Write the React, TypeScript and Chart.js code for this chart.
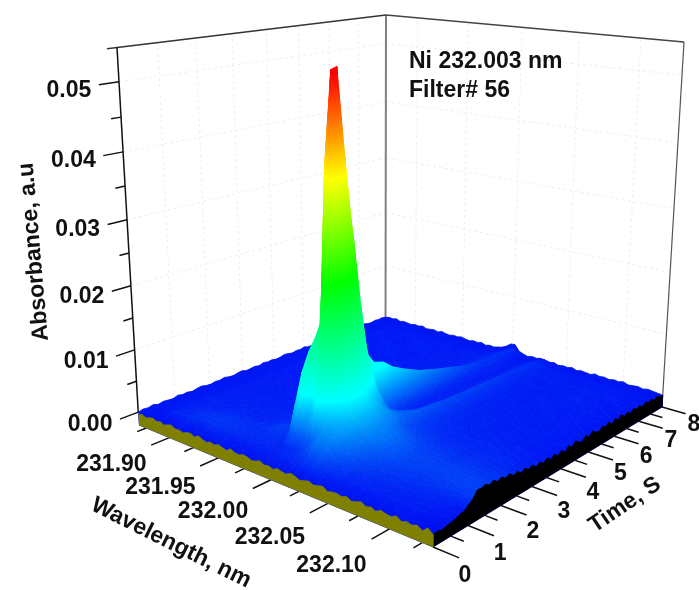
import React, { useEffect, useRef } from "react";
import { Chart, registerables } from "chart.js";

Chart.register(...registerables);

// ---- data (absorbance in units of 1e-4 a.u.) ----
const wavelengths = [231.867, 231.89, 231.91, 231.93, 231.95, 231.96, 231.97, 231.98, 231.985, 231.99, 231.995, 232.0, 232.005, 232.01, 232.015, 232.02, 232.03, 232.04, 232.05, 232.06, 232.07, 232.09, 232.11, 232.133];
const times = [0, 0.4, 0.6, 0.8, 1.0, 1.2, 1.4, 1.6, 1.8, 2.0, 2.2, 2.4, 2.6, 2.8, 3.0, 3.3, 3.6, 4, 4.5, 5, 5.5, 6, 6.5, 7, 7.5, 8];
const absorbance = [
  [-3,-3,-2,-3,-2,-3,-2,-3,-2,-3,-2,-3,-2,-3,-2,-3,-2,-3,-2,-3,-2,-3,-2,-4],
  [0,5,8,9,8,6,6,5,5,5,6,7,8,9,11,14,18,12,8,6,5,4,3,-4],
  [0,4,9,11,9,7,7,7,6,5,6,8,10,14,22,30,30,18,12,8,6,5,4,-2],
  [0,4,8,10,9,8,9,8,6,18,22,20,24,24,32,40,38,26,16,12,9,7,5,0],
  [0,4,6,8,8,9,12,10,20,62,70,45,55,90,60,55,45,30,20,15,12,9,7,3],
  [0,3,5,6,6,8,13,15,35,105,115,85,130,190,110,75,50,34,24,18,14,11,11,12],
  [0,4,4,5,5,7,10,20,45,132,140,125,300,300,160,90,56,38,27,21,16,13,14,15],
  [0,3,4,5,5,6,9,22,50,150,175,400,500,340,175,100,58,40,30,22,17,14,15,14],
  [0,3,4,4,5,6,9,24,52,155,390,530,535,300,160,95,56,38,30,22,17,14,14,12],
  [0,3,4,4,4,5,8,20,45,130,330,455,410,245,130,85,52,35,28,20,15,13,12,10],
  [0,3,3,4,4,5,7,16,35,100,245,370,300,185,105,70,46,31,24,17,14,11,11,9],
  [0,3,3,3,4,4,6,13,28,70,170,285,195,135,85,55,40,26,19,14,12,10,9,7],
  [0,2,3,3,3,4,6,10,20,50,115,185,110,88,60,42,34,20,15,12,10,8,8,5],
  [0,3,3,3,3,4,5,8,14,35,75,105,70,50,38,30,28,16,12,10,8,7,7,4],
  [0,2,3,3,3,3,5,6,10,28,55,88,55,25,22,22,25,14,10,8,7,6,6,3],
  [0,3,2,3,3,3,4,5,9,24,48,82,45,14,10,12,23,12,8,7,6,6,5,2],
  [0,2,3,2,3,3,4,5,8,20,40,68,38,11,7,8,21,10,7,6,5,5,4,1],
  [0,3,2,3,2,3,4,4,7,17,32,56,30,9,5,6,19,9,6,5,5,4,3,0],
  [0,2,3,2,3,3,3,4,6,14,25,43,23,7,4,5,17,8,5,5,4,4,3,1],
  [0,3,2,3,2,3,3,3,5,11,19,34,18,6,4,4,15,7,5,4,4,3,3,0],
  [0,2,3,2,3,2,3,3,4,8,15,26,14,5,3,4,14,6,4,4,3,4,2,0],
  [0,3,2,3,2,3,3,3,4,7,11,18,10,4,3,4,12,6,4,3,4,3,3,0],
  [0,2,3,2,3,2,3,3,3,5,8,13,8,4,3,3,11,5,4,3,3,4,2,0],
  [0,3,2,3,2,3,2,3,3,5,7,10,7,4,3,3,10,5,3,4,3,3,3,-1],
  [0,2,3,2,3,2,3,2,3,4,7,10,7,3,3,3,9,5,4,3,3,3,2,-1],
  [-1,-1,-1,-1,-1,-1,-1,-1,0,0,3,8,3,-1,-1,-1,3,0,-1,-1,-1,-1,-1,-2],
];
// finely sampled absorbance along the four outer edges of the surface
const frontEdge = [-3,-1,-4,-2,0,-3,-1,-4,-1,1,-3,-2,-4,-1,0,-3,1,-2,-4,-1,-3,0,-2,-4,1,-2,-3,0,-1,-4,-2,1,-3,-1,-4,0,-2,-3,1,-1,-4,-2,0,-3,-1,1,-4,-2,-1,-3,0,-4,-2,1,-3,-1,-4,0,-2,-3,1,-4,-1,-3,0,-5,2,-4];
const rightEdge = [-4,-3,-5,-3,-2,-1,2,3,8,13,22,21,23,19,22,17,20,15,18,12,15,9,13,8,11,5,9,4,9,3,8,2,7,1,8,3,9,4,2,8,3,9,4,2,7,3,8,2,7,3,8,2,6,1,6,2,5,0,5,1,4,-1,3,0,-2];
const backLeftEdge = [0,2,1,3,0,2,1,0,3,1,2,0,2,3,1,0,2,1,3,1,0,2,3,0,1,2,0,3,1,2,0,1,3,2,0,2,1,3,0,1,2,0,3,1,0,2,1,3,0,2,1,0,2,3,1,0,2,1,2,0];
const backRightEdge = [0,2,1,3,0,2,1,0,2,1,3,0,1,2,0,3,1,0,2,1,3,1,0,2,1,3,0,2,1,3,5,9,15,16,6,3,1,3,2,4,3,1,3,0,2,1,3,0,2,1,0,3,1,2,0,2,1,3,0,1,2,0,2,1,0,-1];

const absorbanceTicks = [0, 0.01, 0.02, 0.03, 0.04, 0.05];
const absorbanceMinorTicks = [0.005, 0.015, 0.025, 0.035, 0.045];
const wavelengthTicks = [231.9, 231.95, 232.0, 232.05, 232.1];
const wavelengthMinorTicks = [231.875, 231.925, 231.975, 232.025, 232.075, 232.125];
const timeTicks = [0, 1, 2, 3, 4, 5, 6, 7, 8];
const timeMinorTicks = [0.5, 1.5, 2.5, 3.5, 4.5, 5.5, 6.5, 7.5];

const colorValues = [-5, 2, 78, 240, 385, 525];
const colorRgb = [[0, 15, 238], [0, 25, 245], [0, 255, 255], [0, 255, 0], [255, 255, 0], [255, 0, 0]];

// ---- box geometry ----
const floorCorners = [[139, 425], [433, 547], [662, 407], [385.5, 328]];
const topCorners = [[117, 47.5], [439, 91], [684, 42], [386, 15]];
const Z_MIN = -21;
const Z_MAX = 548;
const Z_K = 0.92;
const FONT = 'bold 23px "Liberation Sans", Arial, sans-serif';

type P = { x: number; y: number };

function homography(q: number[][]) {
  const [[x0, y0], [x1, y1], [x2, y2], [x3, y3]] = q;
  const dx1 = x1 - x2, dx2 = x3 - x2, sx = x0 - x1 + x2 - x3;
  const dy1 = y1 - y2, dy2 = y3 - y2, sy = y0 - y1 + y2 - y3;
  const den = dx1 * dy2 - dx2 * dy1;
  const g = (sx * dy2 - dx2 * sy) / den;
  const h = (dx1 * sy - sx * dy1) / den;
  const a = x1 - x0 + g * x1, b = x3 - x0 + h * x3;
  const d = y1 - y0 + g * y1, e = y3 - y0 + h * y3;
  return (u: number, v: number) => {
    const w = g * u + h * v + 1;
    return { x: (a * u + b * v + x0) / w, y: (d * u + e * v + y0) / w };
  };
}
const floorMap = homography(floorCorners);
const topMap = homography(topCorners);
const W0 = wavelengths[0];
const W1 = wavelengths[wavelengths.length - 1];

// wavelength (nm), time (s), absorbance (1e-4 a.u.) -> data coordinates of the flat scales
function project(wl: number, t: number, z: number): P {
  const u = (wl - W0) / (W1 - W0);
  const v = t / 8;
  const w = (z - Z_MIN) / (Z_MAX - Z_MIN);
  const wp = (w * Z_K) / (1 + (Z_K - 1) * w);
  const f = floorMap(u, v);
  const c = topMap(u, v);
  return { x: f.x + (c.x - f.x) * wp, y: f.y + (c.y - f.y) * wp };
}

function colorAt(z: number) {
  let i = 0;
  if (z <= colorValues[0]) i = 0;
  else {
    while (i < colorValues.length - 2 && z > colorValues[i + 1]) i++;
  }
  const f = Math.max(0, Math.min(1, (z - colorValues[i]) / (colorValues[i + 1] - colorValues[i])));
  const a = colorRgb[i], b = colorRgb[i + 1];
  return `rgb(${Math.round(a[0] + (b[0] - a[0]) * f)},${Math.round(a[1] + (b[1] - a[1]) * f)},${Math.round(a[2] + (b[2] - a[2]) * f)})`;
}

function triangleFill(ctx: CanvasRenderingContext2D, a: P, b: P, c: P, za: number, zb: number, zc: number) {
  const det = (b.x - a.x) * (c.y - a.y) - (c.x - a.x) * (b.y - a.y);
  const zMin = Math.min(za, zb, zc), zMax = Math.max(za, zb, zc);
  if (Math.abs(det) < 0.5 || zMax - zMin < 0.5) return colorAt((za + zb + zc) / 3);
  const zx = ((zb - za) * (c.y - a.y) - (zc - za) * (b.y - a.y)) / det;
  const zy = ((zc - za) * (b.x - a.x) - (zb - za) * (c.x - a.x)) / det;
  const G = zx * zx + zy * zy;
  const low = za === zMin ? a : zb === zMin ? b : c;
  const k = (zMax - zMin) / G;
  const grad = ctx.createLinearGradient(low.x, low.y, low.x + zx * k, low.y + zy * k);
  grad.addColorStop(0, colorAt(zMin));
  colorValues.forEach((s) => {
    if (s > zMin && s < zMax) grad.addColorStop((s - zMin) / (zMax - zMin), colorAt(s));
  });
  grad.addColorStop(1, colorAt(zMax));
  return grad;
}

function polygon(points: P[], fill: any, border?: any, bw = 0.8) {
  return {
    data: points,
    fill: "shape",
    backgroundColor: fill,
    borderColor: border ?? fill,
    borderWidth: bw,
    pointRadius: 0,
    tension: 0,
    clip: false,
  };
}
function line(points: P[], color: string, width: number, dash: number[] = []) {
  return {
    data: points,
    fill: false,
    borderColor: color,
    borderWidth: width,
    borderDash: dash,
    pointRadius: 0,
    tension: 0,
    clip: false,
  };
}

function buildDatasets(ctx: CanvasRenderingContext2D) {
  const ds: any[] = [];
  const GRID = "#eeeeee";
  const zTop = Z_MAX, zBot = Z_MIN;
  // walls
  [...absorbanceTicks.slice(1)].forEach((a) => {
    ds.push(line([project(W0, 0, a * 1e4), project(W0, 8, a * 1e4)], GRID, 1, [3, 3]));
    ds.push(line([project(W0, 8, a * 1e4), project(W1, 8, a * 1e4)], GRID, 1, [3, 3]));
  });
  timeTicks.slice(1, 8).forEach((t) => ds.push(line([project(W0, t, zBot), project(W0, t, zTop)], GRID, 1, [3, 3])));
  wavelengthTicks.forEach((w) => ds.push(line([project(w, 8, zBot), project(w, 8, zTop)], GRID, 1, [3, 3])));
  // frame
  ds.push(line([project(W0, 8, zBot), project(W0, 8, zTop)], "#808080", 2));
  ds.push(line([project(W1, 8, zBot), project(W1, 8, zTop)], "#555555", 1.2));
  ds.push(line([project(W0, -0.24, zTop), project(W0, 8, zTop)], "#333333", 1.4));
  ds.push(line([project(W0, 8, zTop), project(W1, 8, zTop)], "#444444", 1.4));
  ds.push(line([project(W0, 0, 0), project(W0, 0, zTop)], "#111111", 1.5));
  // absorbance ticks
  absorbanceTicks.forEach((a) => ds.push(line([project(W0, 0, a * 1e4), project(W0, -0.48, a * 1e4)], "#111111", 1.5)));
  absorbanceMinorTicks.forEach((a) => ds.push(line([project(W0, 0, a * 1e4), project(W0, -0.24, a * 1e4)], "#111111", 1.5)));
  // wavelength ticks
  wavelengthTicks.forEach((w) => ds.push(line([project(w, 0, zBot), project(w, -0.48, zBot)], "#111111", 1.5)));
  wavelengthMinorTicks.forEach((w) => ds.push(line([project(w, 0, zBot), project(w, -0.24, zBot)], "#111111", 1.5)));
  // time ticks
  timeTicks.forEach((t) => ds.push(line([project(W1, t, zBot), project(W1 + 0.019, t, zBot)], "#111111", 1.5)));
  timeMinorTicks.forEach((t) => ds.push(line([project(W1, t, zBot), project(W1 + 0.0095, t, zBot)], "#111111", 1.5)));

  // rear silhouettes of the surface
  const blue = colorAt(0);
  const leftTop = backLeftEdge.map((z, i) => project(W0, (8 * i) / (backLeftEdge.length - 1), z));
  ds.push(polygon([...leftTop, project(W0, 8, zBot), project(W0, 0, zBot)], blue));
  const rightTop = backRightEdge.map((z, i) => project(W0 + ((W1 - W0) * i) / (backRightEdge.length - 1), 8, z));
  ds.push(polygon([...rightTop, project(W1, 8, zBot), project(W0, 8, zBot)], blue));

  // surface, painted from far to near
  for (let r = times.length - 2; r >= 0; r--) {
    for (let c = 0; c < wavelengths.length - 1; c++) {
      const near0 = absorbance[r][c], near1 = absorbance[r][c + 1];
      const far0 = absorbance[r + 1][c], far1 = absorbance[r + 1][c + 1];
      const pn0 = project(wavelengths[c], times[r], near0);
      const pn1 = project(wavelengths[c + 1], times[r], near1);
      const pf0 = project(wavelengths[c], times[r + 1], far0);
      const pf1 = project(wavelengths[c + 1], times[r + 1], far1);
      const tris: [P, P, P, number, number, number][] =
        Math.abs(far0 - near1) <= Math.abs(far1 - near0)
          ? [
              [pf0, pf1, pn1, far0, far1, near1],
              [pf0, pn0, pn1, far0, near0, near1],
            ]
          : [
              [pf0, pf1, pn0, far0, far1, near0],
              [pf1, pn0, pn1, far1, near0, near1],
            ];
      tris.forEach(([a, b, d, za, zb, zd]) => {
        const fillStyle = triangleFill(ctx, a, b, d, za, zb, zd);
        ds.push(polygon([a, b, d, a], fillStyle));
      });
    }
  }

  // under-layers and skirts
  const lastRow = wavelengths.map((w, i) => project(w, 0, absorbance[0][i]));
  ds.push(polygon([...lastRow, project(W1, 0, zBot), project(W0, 0, zBot)], blue));
  const lastCol = times.map((t, i) => project(W1, t, absorbance[i][wavelengths.length - 1]));
  ds.push(polygon([...lastCol, project(W1, 8, zBot), project(W1, 0, zBot)], blue));
  const rightSkirt = rightEdge.map((z, i) => project(W1, (8 * i) / (rightEdge.length - 1), z));
  ds.push(polygon([...rightSkirt, project(W1, 8, zBot), project(W1, 0, zBot)], "#000000", "#000000", 0.5));
  const frontSkirt = frontEdge.map((z, i) => project(W0 + ((W1 - W0) * i) / (frontEdge.length - 1), 0, z));
  ds.push(polygon([...frontSkirt, project(W1, 0, zBot), project(W0, 0, zBot)], "#808000", "#808000", 0.5));
  return ds;
}

const labelsPlugin = {
  id: "labels3d",
  afterDatasetsDraw(chart: any) {
    const c: CanvasRenderingContext2D = chart.ctx;
    const sx = chart.scales.x, sy = chart.scales.y;
    const text = (s: string, x: number, y: number, align: CanvasTextAlign = "center", rot = 0) => {
      c.save();
      c.translate(sx.getPixelForValue(x), sy.getPixelForValue(y));
      c.rotate((rot * Math.PI) / 180);
      c.font = FONT;
      c.fillStyle = "#111111";
      c.textAlign = align;
      c.textBaseline = "middle";
      c.fillText(s, 0, 0);
      c.restore();
    };
    absorbanceTicks.forEach((a) => {
      const e = project(W0, -0.48, a * 1e4);
      text(a.toFixed(2), e.x - 7.5, e.y + 5.5, "right");
    });
    wavelengthTicks.forEach((w) => {
      const e = project(w, 0, Z_MIN);
      text(w.toFixed(2), e.x - 58, e.y + 27 + ((w - 231.9) / 0.2) * 10);
    });
    timeTicks.forEach((t) => {
      const e = project(W1, t, Z_MIN);
      text(String(t), e.x + 32, e.y + 29 - t * 1.4);
    });
    text("Absorbance, a.u", 34, 252, "center", -95);
    text("Wavelength, nm", 171, 543, "center", 26.5);
    text("Time, S", 625, 505, "center", -34);
    text("Ni 232.003 nm", 409, 62, "left");
    text("Filter# 56", 409, 91, "left");
  },
};

export default function App() {
  const ref = useRef<HTMLCanvasElement | null>(null);
  useEffect(() => {
    const canvas = ref.current!;
    const ctx = canvas.getContext("2d")!;
    const chart = new Chart(ctx, {
      type: "line",
      data: { datasets: buildDatasets(ctx).reverse() },
      plugins: [labelsPlugin],
      options: {
        animation: false,
        responsive: false,
        events: [],
        layout: { padding: 0 },
        scales: {
          x: { type: "linear", min: 0, max: 699, display: false },
          y: { type: "linear", min: 0, max: 590, reverse: true, display: false },
        },
        plugins: { legend: { display: false }, tooltip: { enabled: false }, title: { display: false } },
      },
    } as any);
    return () => chart.destroy();
  }, []);
  return (
    <div style={{ position: "absolute", left: 0, top: 0, width: 699, height: 590, background: "#fff" }}>
      <canvas ref={ref} width={699} height={590} style={{ display: "block" }} />
    </div>
  );
}
